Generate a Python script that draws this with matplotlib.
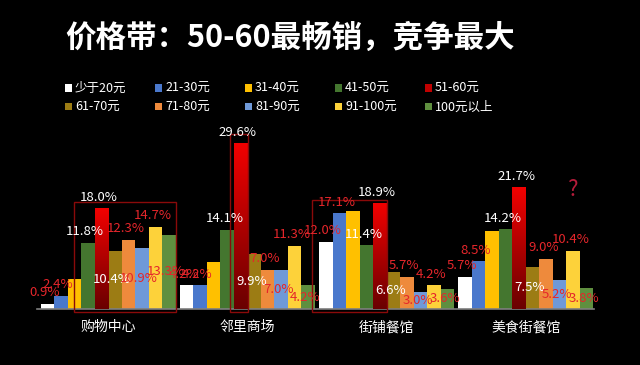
import matplotlib
matplotlib.use("Agg")
import matplotlib.pyplot as plt
import numpy as np
from matplotlib.patches import Rectangle
from matplotlib.colors import LinearSegmentedColormap

plt.rcParams['font.family'] = ['Noto Sans CJK SC', 'DejaVu Sans']

# data
venues = ['购物中心', '邻里商场', '街铺餐馆', '美食街餐馆']
price_bands = ['少于20元', '21-30元', '31-40元', '41-50元', '51-60元',
               '61-70元', '71-80元', '81-90元', '91-100元', '100元以上']
shares = [
    [0.9, 2.4, 5.4, 11.8, 18.0, 10.4, 12.3, 10.9, 14.7, 13.3],   # 购物中心
    [4.2, 4.2, 8.4, 14.1, 29.6, 9.9, 7.0, 7.0, 11.3, 4.2],       # 邻里商场
    [12.0, 17.1, 17.5, 11.4, 18.9, 6.6, 5.7, 3.0, 4.2, 3.6],     # 街铺餐馆
    [5.7, 8.5, 14.0, 14.2, 21.7, 7.5, 9.0, 5.2, 10.4, 3.8],      # 美食街餐馆
]
title = '价格带：50-60最畅销，竞争最大'

# styles
colors = ['#ffffff', '#4a78cc', '#ffc000', '#44762f', '#e00000',
          '#9c7c14', '#ee8a3c', '#6f99d8', '#fdd23a', '#5f8f3f']
swatch_colors = colors[:4] + ['#c00000'] + colors[5:]
label_red = '#e5262b'
white_label_series = {3, 4, 5}
centered_label_series = {5, 7, 9}
hidden_label_series = {2}

fig = plt.figure(figsize=(6.4, 3.65), dpi=100, facecolor='black')
ax = fig.add_axes([37 / 640, 56 / 365, 557 / 640, 179 / 365])
ax.set_facecolor('black')

n = len(price_bands)
width = 0.0969
x = np.arange(len(venues))
bar_sets = []
for i in range(n):
    vals = [row[i] for row in shares]
    bars = ax.bar(x + (i - (n - 1) / 2) * width, vals, width,
                  color=colors[i], linewidth=0, zorder=2)
    bar_sets.append(bars)

# gradient on the 51-60 bars
red_cmap = LinearSegmentedColormap.from_list('redgrad', ['#6a0000', '#f20000'])
grad = np.linspace(0, 1, 200).reshape(-1, 1)
for b in bar_sets[4]:
    x0 = b.get_x()
    im = ax.imshow(grad, extent=[x0, x0 + b.get_width(), 0, b.get_height()],
                   origin='lower', aspect='auto', cmap=red_cmap, zorder=3)
    im.set_clip_path(b)

ax.set_xlim(-0.51, 3.489)
ax.set_ylim(0, 31.96)

# value labels
for i, bars in enumerate(bar_sets):
    if i in hidden_label_series:
        continue
    col = 'white' if i in white_label_series else label_red
    for b in bars:
        h = b.get_height()
        cx = b.get_x() + b.get_width() / 2
        if i in centered_label_series:
            ax.annotate(f'{h:.1f}%', (cx, h / 2), xytext=(-2, 0),
                        textcoords='offset points', ha='center', va='center',
                        color=col, fontsize=9.5, zorder=5)
        else:
            ax.annotate(f'{h:.1f}%', (cx, h), xytext=(-2, 8),
                        textcoords='offset points', ha='center', va='center',
                        color=col, fontsize=9.5, zorder=5)

# highlight boxes
box_color = '#8a0a0a'
b0 = bar_sets[2][0]
ax.add_patch(Rectangle((b0.get_x() + b0.get_width() / 2, -0.6),
                       bar_sets[9][0].get_x() + width - (b0.get_x() + b0.get_width() / 2), 19.7,
                       fill=False, edgecolor=box_color, lw=1, clip_on=False, zorder=4))
b1 = bar_sets[4][1]
ax.add_patch(Rectangle((b1.get_x() - 0.06 * 0.5 + 0.0, -0.6), width + 0.06 * 0.6, 31.8,
                       fill=False, edgecolor=box_color, lw=1, clip_on=False, zorder=4))
b2 = bar_sets[0][2]
ax.add_patch(Rectangle((b2.get_x() - 0.05, -0.6),
                       bar_sets[4][2].get_x() + width - (b2.get_x() - 0.05), 20.1,
                       fill=False, edgecolor=box_color, lw=1, clip_on=False, zorder=4))

ax.text(3.33, 21.4, '?', color='#b51c3a', fontsize=16, ha='center', va='center')

# axes styling
for s in ['top', 'right', 'left']:
    ax.spines[s].set_visible(False)
ax.spines['bottom'].set_color('#7f7f7f')
ax.spines['bottom'].set_linewidth(1.2)
ax.set_yticks([])
ax.set_xticks(x)
ax.set_xticklabels(venues, color='white', fontsize=10)
ax.tick_params(axis='x', length=0, pad=8)

# title
fig.text(65 / 640, 1 - 38 / 365, title, color='white', fontsize=22,
         fontweight='bold', va='center', ha='left')

# legend
for i, lab in enumerate(price_bands):
    row, col = divmod(i, 5)
    px = 65 + 90 * col
    py = 88 + 19 * row
    fig.add_artist(Rectangle((px / 640, 1 - (py + 3.5) / 365), 7 / 640, 7 / 365,
                             transform=fig.transFigure, color=swatch_colors[i], lw=0))
    fig.text((px + 10) / 640, 1 - py / 365, lab, color='white', fontsize=9,
             va='center', ha='left')

fig.savefig('out.png', dpi=100, facecolor='black')
